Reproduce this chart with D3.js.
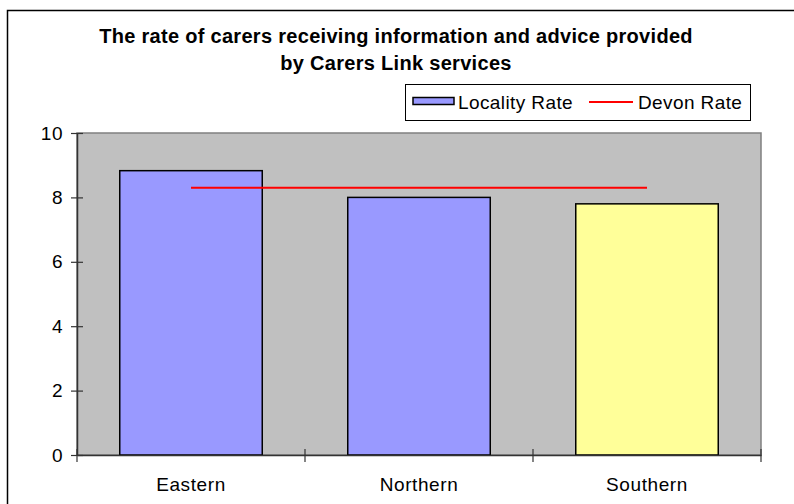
<!DOCTYPE html>
<html>
<head>
<meta charset="utf-8">
<script src="https://cdn.jsdelivr.net/npm/d3@7"></script>
<style>
  body { margin: 0; background: #fff; }
  text { font-family: Arial, "Liberation Sans", sans-serif; }
</style>
</head>
<body>
<script>
var width = 794,
    height = 504;

// data
var categories = ["Eastern", "Northern", "Southern"];
var localityRate = [8.83, 8.0, 7.8];
var devonRate = 8.3;
var barColors = ["#9999ff", "#9999ff", "#ffff99"];
var yTicks = [0, 2, 4, 6, 8, 10];
var titleLines = ["The rate of carers receiving information and advice provided",
                  "by Carers Link services"];
var legendLabels = ["Locality Rate", "Devon Rate"];

var plot = { left: 77, right: 761, top: 133, bottom: 455 };

var svg = d3.select("body").append("svg")
    .attr("width", width)
    .attr("height", height);

// outer chart frame (only left / top visible)
svg.append("path")
    .attr("d", "M7.5,504V10.5H794")
    .attr("fill", "none")
    .attr("stroke", "#000")
    .attr("stroke-width", 1.5);

var x = d3.scaleBand()
    .domain(categories)
    .range([plot.left, plot.right])
    .paddingInner(0.375)
    .paddingOuter(0.1875);

var y = d3.scaleLinear()
    .domain([0, 10])
    .range([plot.bottom, plot.top]);

// plot area
svg.append("rect")
    .attr("x", plot.left)
    .attr("y", plot.top)
    .attr("width", plot.right - plot.left)
    .attr("height", plot.bottom - plot.top)
    .attr("fill", "#c0c0c0")
    .attr("stroke", "#808080")
    .attr("stroke-width", 1.5);

// bars
svg.selectAll(".bar")
    .data(localityRate)
    .enter().append("rect")
    .attr("class", "bar")
    .attr("x", function (d, i) { return x(categories[i]); })
    .attr("y", function (d) { return y(d); })
    .attr("width", x.bandwidth())
    .attr("height", function (d) { return y(0) - y(d); })
    .attr("fill", function (d, i) { return barColors[i]; })
    .attr("stroke", "#000")
    .attr("stroke-width", 1.5);

// devon rate line
var first = categories[0], last = categories[categories.length - 1];
svg.append("line")
    .attr("x1", x(first) + x.bandwidth() / 2)
    .attr("x2", x(last) + x.bandwidth() / 2)
    .attr("y1", y(devonRate))
    .attr("y2", y(devonRate))
    .attr("stroke", "#ff0000")
    .attr("stroke-width", 2);

// y axis
var yAxis = svg.append("g")
    .attr("transform", "translate(" + plot.left + ",0)")
    .call(d3.axisLeft(y).tickValues(yTicks).tickSize(0).tickPadding(14));
yAxis.select(".domain").attr("stroke", "#333").attr("stroke-width", 1.5);
yAxis.selectAll(".tick line").remove();
yAxis.selectAll(".tick").append("line")
    .attr("x1", -6).attr("x2", 6)
    .attr("stroke", "#333").attr("stroke-width", 1.2);
yAxis.selectAll("text")
    .attr("font-size", 19)
    .attr("letter-spacing", 0.5)
    .attr("fill", "#000");

// x axis
var xAxis = svg.append("g")
    .attr("transform", "translate(0," + plot.bottom + ")")
    .call(d3.axisBottom(x).tickSize(0).tickPadding(23));
xAxis.select(".domain").attr("stroke", "#333").attr("stroke-width", 1.5);
xAxis.selectAll(".tick line").remove();
xAxis.selectAll("text")
    .attr("font-size", 19)
    .attr("letter-spacing", 0.6)
    .attr("fill", "#000");
// category separator ticks
var sepX = [plot.left].concat(categories.map(function (c) { return x(c) + x.bandwidth() + x.step() * x.paddingInner() / 2; }));
sepX[sepX.length - 1] = plot.right;
svg.selectAll(".xsep")
    .data(sepX)
    .enter().append("line")
    .attr("class", "xsep")
    .attr("x1", function (d) { return d; })
    .attr("x2", function (d) { return d; })
    .attr("y1", plot.bottom - 6)
    .attr("y2", plot.bottom + 7)
    .attr("stroke", "#333")
    .attr("stroke-width", 1.2);

// title
svg.selectAll(".title")
    .data(titleLines)
    .enter().append("text")
    .attr("class", "title")
    .attr("x", 396)
    .attr("y", function (d, i) { return 43 + i * 27; })
    .attr("text-anchor", "middle")
    .attr("font-size", 20)
    .attr("letter-spacing", 0.3)
    .attr("font-weight", "bold")
    .text(function (d) { return d; });

// legend
var legend = svg.append("g");
legend.append("rect")
    .attr("x", 405.5).attr("y", 84.5)
    .attr("width", 345).attr("height", 36)
    .attr("fill", "#fff")
    .attr("stroke", "#000")
    .attr("stroke-width", 1);
legend.append("rect")
    .attr("x", 413).attr("y", 97.5)
    .attr("width", 41).attr("height", 7)
    .attr("fill", barColors[0])
    .attr("stroke", "#000")
    .attr("stroke-width", 1.5);
legend.append("text")
    .attr("x", 458).attr("y", 109)
    .attr("font-size", 19)
    .attr("letter-spacing", 0.4)
    .text(legendLabels[0]);
legend.append("line")
    .attr("x1", 589).attr("x2", 633)
    .attr("y1", 102).attr("y2", 102)
    .attr("stroke", "#ff0000")
    .attr("stroke-width", 2);
legend.append("text")
    .attr("x", 638).attr("y", 109)
    .attr("font-size", 19)
    .attr("letter-spacing", 0.4)
    .text(legendLabels[1]);
</script>
</body>
</html>
